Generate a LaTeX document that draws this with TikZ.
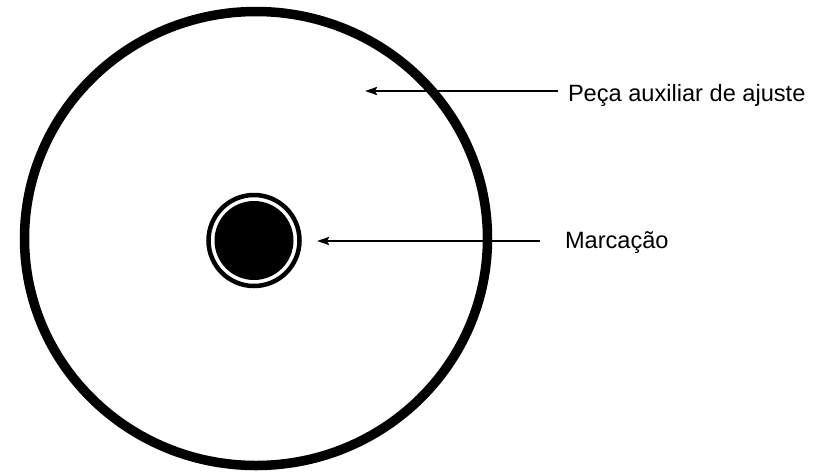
\documentclass[tikz,border=0pt]{standalone}
\usepackage{fontspec}
\setmainfont{Liberation Sans}
\usetikzlibrary{arrows.meta}
\tikzset{
  rotulo/.style={inner sep=0pt,outer sep=0pt,anchor=base west,font=\fontsize{23.6}{28}\selectfont},
  seta/.style={draw=black,line width=2.3pt,-{Stealth[length=12pt,width=8pt,inset=2pt]}},
}
\begin{document}
\begin{tikzpicture}[x=1pt,y=-1pt]
\path[use as bounding box] (0,0) rectangle (825,472);
\path[fill=white,draw=none] (0,0) rectangle (825,472);
% peca auxiliar
\draw[line width=9.5pt] (256,238.5) ellipse [x radius=231.5,y radius=227];
% marcacao
\draw[line width=4.5pt] (254,240.5) circle [radius=45.5];
\fill[black] (254,240.5) circle [radius=39.5];
\coordinate (alvo1) at (365,91);
\coordinate (alvo2) at (317,241);
\node[rotulo] (peca) at (568,101) {Peça auxiliar de ajuste};
\node[rotulo] (marca) at (565,248) {Marcação};
\draw[seta] ([xshift=-10pt]peca.base west |- alvo1) coordinate (inicio1) -- (alvo1);
\draw[seta] ([xshift=-25pt]marca.base west |- alvo2) coordinate (inicio2) -- (alvo2);
\end{tikzpicture}
\end{document}
